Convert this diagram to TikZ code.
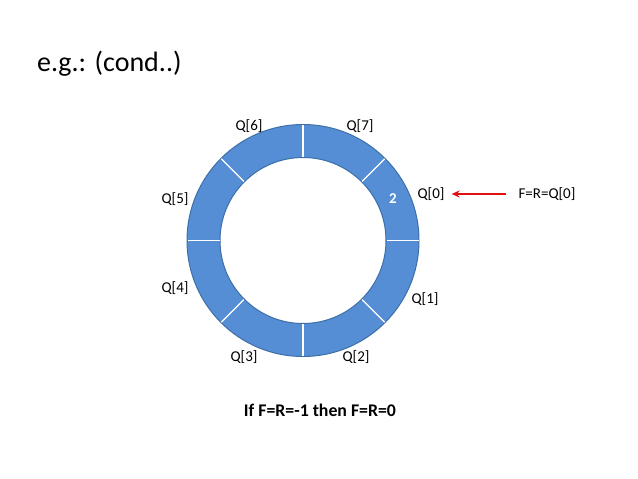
\documentclass[tikz,border=0pt]{standalone}
\usepackage{fontspec}
\setmainfont{Carlito}
\usetikzlibrary{arrows.meta,calc}
\definecolor{ringblue}{HTML}{558ED5}
\definecolor{ringedge}{HTML}{3D6FA8}
\definecolor{arrowred}{HTML}{E01010}
\begin{document}
\begin{tikzpicture}[x=1pt,y=-1pt,
  qlabel/.style={font=\fontsize{15}{17}\selectfont, inner sep=0pt},
  divider/.style={draw=white, line width=1.2pt}]
\useasboundingbox (0,0) rectangle (638,479);
\fill[white] (0,0) rectangle (638,479);
\node[anchor=west, inner sep=0pt, font=\fontsize{28}{32}\selectfont] (title) at (37,64) {e.g.: (cond..)};
\coordinate (c) at (303,240.5);
\fill[ringblue, even odd rule] (c) circle [radius=116pt] (c) circle [radius=83pt];
\draw[ringedge, line width=1pt] (c) circle [radius=116pt];
\draw[ringedge, line width=1pt] (c) circle [radius=83pt];
\foreach \a in {0,45,...,315} {
  \draw[divider] ($(c)+(\a:83.5pt)$) -- ($(c)+(\a:115.5pt)$);
}
\node[text=white, font=\fontsize{15}{17}\selectfont\bfseries, inner sep=0pt] (two) at (393,199) {2};
\node[qlabel] (q0) at (431,194) {Q[0]};
\node[qlabel] (q1) at (425,299) {Q[1]};
\node[qlabel] (q2) at (356,357) {Q[2]};
\node[qlabel] (q3) at (244,357) {Q[3]};
\node[qlabel] (q4) at (175,288) {Q[4]};
\node[qlabel] (q5) at (175,199) {Q[5]};
\node[qlabel] (q6) at (249,126) {Q[6]};
\node[qlabel] (q7) at (360,126) {Q[7]};
\node[qlabel] (frq) at (547,194) {F=R=Q[0]};
\draw[arrowred, line width=1.8pt, -{Stealth[length=8pt,width=7pt]}] ([xshift=-12pt]frq.west) -- ([xshift=7pt]q0.east);
\node[inner sep=0pt, font=\fontsize{17.8}{20}\selectfont\bfseries] (cond) at (320,410) {If F=R=-1 then F=R=0};
\end{tikzpicture}
\end{document}
